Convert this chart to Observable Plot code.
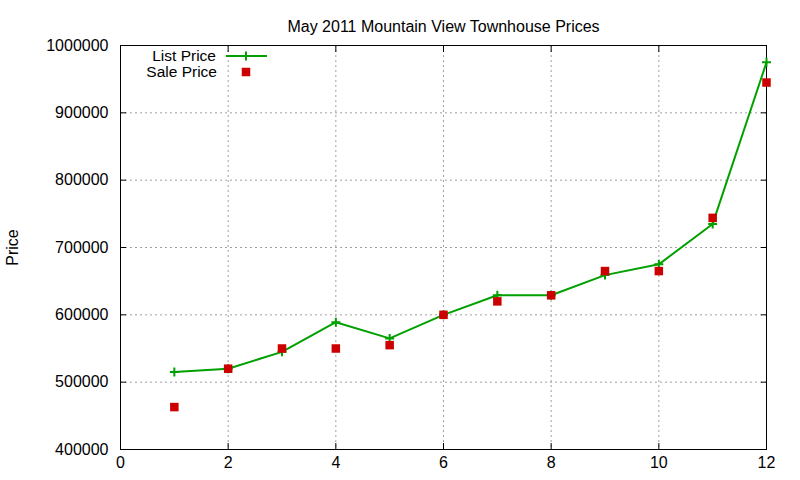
<!DOCTYPE html>
<html>
<head>
<meta charset="utf-8">
<script src="https://cdn.jsdelivr.net/npm/d3@7"></script>
<script src="https://cdn.jsdelivr.net/npm/@observablehq/plot@0.6"></script>
<style>
  html, body { margin: 0; padding: 0; background: #fff; }
  #chart svg { display: block; }
</style>
</head>
<body>
<div id="chart"></div>
<script>
const title = "May 2011 Mountain View Townhouse Prices";
const yLabel = "Price";
const listName = "List Price";
const saleName = "Sale Price";
const homes = [1, 2, 3, 4, 5, 6, 7, 8, 9, 10, 11, 12];
const listPrices = [515000, 520000, 545000, 589000, 565000, 600000, 629000, 629000, 659000, 675000, 735000, 975000];
const salePrices = [463000, 520000, 550000, 550000, 555000, 600000, 620000, 629000, 665000, 665000, 744000, 945000];
const xTicks = [0, 2, 4, 6, 8, 10, 12];
const yTicks = [400000, 500000, 600000, 700000, 800000, 900000, 1000000];

const listData = homes.map((h, i) => ({x: h, y: listPrices[i]}));
const saleData = homes.map((h, i) => ({x: h, y: salePrices[i]}));

const green = "#00a000";
const red = "#cc0000";
const font = "'Liberation Sans', Arial, sans-serif";

const plot = Plot.plot({
  width: 800,
  height: 480,
  marginLeft: 120,
  marginRight: 34,
  marginTop: 45,
  marginBottom: 31,
  style: {fontFamily: font, fontSize: "16px", color: "#000", background: "#fff"},
  x: {domain: [0, 12]},
  y: {domain: [400000, 1000000]},
  marks: [
    Plot.gridX(xTicks, {stroke: "#a0a0a0", strokeOpacity: 1, strokeDasharray: "2,3"}),
    Plot.gridY(yTicks, {stroke: "#a0a0a0", strokeOpacity: 1, strokeDasharray: "2,3"}),
    Plot.axisX(xTicks, {anchor: "bottom", tickSize: 0, tickPadding: 7, label: null, tickFormat: d => String(d)}),
    Plot.axisX(xTicks, {anchor: "bottom", tickSize: -6, label: null, tickFormat: () => ""}),
    Plot.axisX(xTicks, {anchor: "top", tickSize: -6, label: null, tickFormat: () => ""}),
    Plot.axisY(yTicks, {anchor: "left", tickSize: 0, tickPadding: 12, label: null, tickFormat: d => String(d)}),
    Plot.axisY(yTicks, {anchor: "left", tickSize: -6, label: null, tickFormat: () => ""}),
    Plot.axisY(yTicks, {anchor: "right", tickSize: -6, label: null, tickFormat: () => ""}),
    Plot.frame({stroke: "#000", strokeWidth: 1}),
    Plot.line(listData, {x: "x", y: "y", stroke: green, strokeWidth: 2}),
    Plot.dot(listData, {x: "x", y: "y", symbol: "plus", r: 3, stroke: green, strokeWidth: 2}),
    Plot.dot(saleData, {x: "x", y: "y", symbol: "square", r: 4.8, fill: red, stroke: "none"}),
    Plot.text([title], {frameAnchor: "top", dy: -25, text: d => d, fontSize: 16, fill: "#000"}),
    Plot.text([yLabel], {frameAnchor: "left", textAnchor: "middle", dx: -108, dy: 0, rotate: -90, text: d => d, fontSize: 16, fill: "#000"})
  ]
});

// Legend (gnuplot style, inside top-left of plot)
const svg = d3.select(plot);
const lg = svg.append("g").attr("font-family", font).attr("font-size", 15.5);
lg.append("text").attr("x", 216).attr("y", 56).attr("dy", "0.35em").attr("text-anchor", "end").text(listName);
lg.append("line").attr("x1", 226).attr("x2", 267).attr("y1", 56).attr("y2", 56).attr("stroke", green).attr("stroke-width", 2);
lg.append("path").attr("d", d3.symbol(d3.symbolPlus, Math.PI * 9)()).attr("transform", "translate(246,56)").attr("stroke", green).attr("stroke-width", 2).attr("fill", "none");
lg.append("text").attr("x", 217).attr("y", 71.5).attr("dy", "0.35em").attr("text-anchor", "end").text(saleName);
lg.append("path").attr("d", d3.symbol(d3.symbolSquare, Math.PI * 4.8 * 4.8)()).attr("transform", "translate(246,72)").attr("fill", red);

document.getElementById("chart").append(plot);
</script>
</body>
</html>
